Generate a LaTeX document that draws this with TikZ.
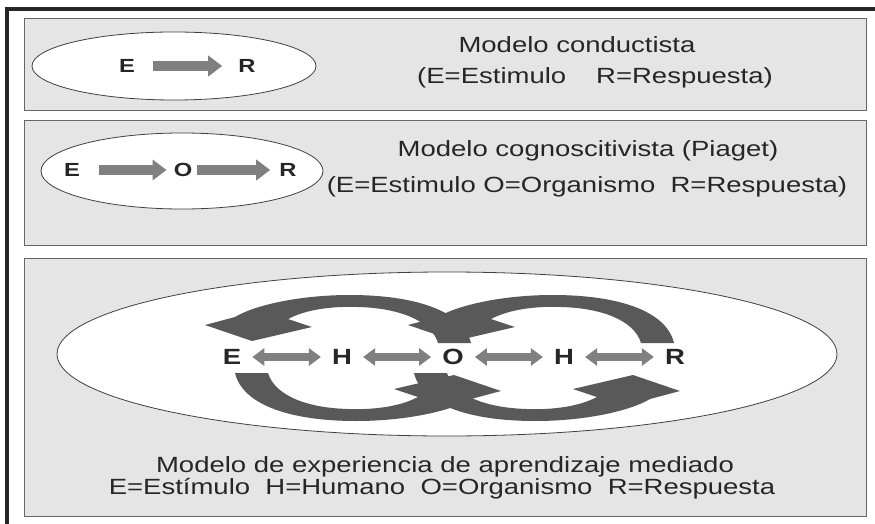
\documentclass[tikz,border=0pt]{standalone}
\usepackage{fontspec}
\setmainfont{Liberation Sans}[FakeStretch=1.25]
\usetikzlibrary{arrows.meta}

\tikzset{
  caja/.style={draw=black!60, fill=black!10, line width=0.8pt},
  ovalo/.style={draw=black!75, fill=white, line width=0.8pt},
  letra/.style={font=\fontsize{19}{22}\selectfont\bfseries, inner sep=0pt, text=black!85},
  letrag/.style={font=\fontsize{22}{26}\selectfont\bfseries, inner sep=0pt, text=black!85},
  texto/.style={font=\fontsize{22}{26}\selectfont, inner sep=0pt, text=black!85},
  flecha/.style={line width=10pt, draw=black!50, -{Triangle[width=20pt,length=14pt]}},
  dflecha/.style={line width=8pt, draw=black!50,
    {Triangle[width=17pt,length=12pt]}-{Triangle[width=17pt,length=12pt]},
    shorten <=11pt, shorten >=11pt},
  remolino/.pic={
    \fill[black!65] (118,-15) .. controls (110,-48) and (60,-63) .. (-3,-63)
      .. controls (-53,-63) and (-98,-53) .. (-118,-41)
      -- (-148,-33) -- (-101,-17) -- (-41,-31) -- (-65,-39)
      .. controls (-48,-48) and (-23,-52) .. (5,-51)
      .. controls (45,-50) and (78,-38) .. (85,-15) -- cycle;
  }
}

\begin{document}
\begin{tikzpicture}[x=1pt, y=-1pt]
  \useasboundingbox (0,0) rectangle (875,524);

  % marco
  \draw[line width=3.5pt, black!85] (7,524) -- (7,9) -- (875,9);

  % modelo conductista
  \draw[caja] (24,18) rectangle (866,110);
  \draw[ovalo] (174,66) ellipse [x radius=142, y radius=34];
  \node[letra] (e1) at (127,66) {E};
  \node[letra] (r1) at (247,66) {R};
  \draw[flecha, shorten <=18pt, shorten >=16pt] (e1) -- (r1);
  \node[texto] (t1) at (577,45) {Modelo conductista};
  \node[texto] (t1b) at (595,78) {(E=Estimulo\hspace{30pt}R=Respuesta)};

  % modelo cognoscitivista
  \draw[caja] (24,120) rectangle (866,245);
  \draw[ovalo] (182,171) ellipse [x radius=141, y radius=38];
  \node[letra] (e2) at (72,170) {E};
  \node[letra] (o2) at (183,170) {O};
  \node[letra] (r2) at (288,170) {R};
  \draw[flecha, shorten <=19pt, shorten >=7pt] (e2) -- (o2);
  \draw[flecha, shorten <=5pt, shorten >=9pt] (o2) -- (r2);
  \node[texto] (t2) at (588,151) {Modelo cognoscitivista (Piaget)};
  \node[texto] (t2b) at (587,187) {(E=Estimulo O=Organismo\ \ R=Respuesta)};

  % experiencia de aprendizaje mediado
  \draw[caja] (24,258) rectangle (866,516);
  \draw[ovalo] (447,354) ellipse [x radius=390, y radius=82];
  \pic at (353,358) {remolino};
  \pic at (556,358) {remolino};
  \pic[rotate=180] at (353,358) {remolino};
  \pic[rotate=180] at (532,358) {remolino};
  \foreach \l/\x [count=\i] in {E/232,H/342,O/453,H/564,R/675}
    \node[letrag] (m\i) at (\x,357) {\l};
  \foreach \i/\j in {1/2,2/3,3/4,4/5}
    \draw[dflecha] (m\i) -- (m\j);
  \node[texto] (t3) at (445,467) {Modelo de experiencia de aprendizaje mediado};
  \node[texto] (t3b) at (442,489) {E=Estímulo\ \ H=Humano\ \ O=Organismo\ \ R=Respuesta};
\end{tikzpicture}
\end{document}
